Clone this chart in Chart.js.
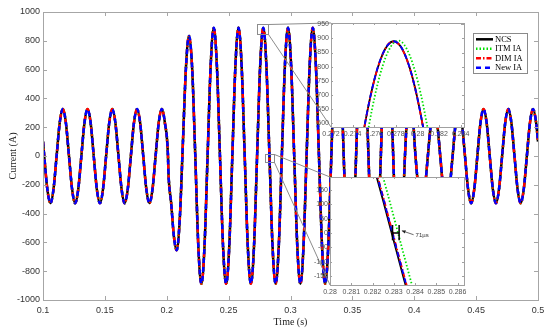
<!DOCTYPE html>
<html>
<head>
<meta charset="utf-8">
<script src="https://cdn.jsdelivr.net/npm/chart.js@4.4.1/dist/chart.umd.min.js"></script>
<style>
  html, body { margin: 0; padding: 0; background: #fff; }
  #wrap { position: relative; width: 550px; height: 330px; }
  #wrap canvas { position: absolute; }
</style>
</head>
<body>
<div id="wrap">
  <canvas id="mainChart" width="550" height="330" style="left:0;top:0"></canvas>
  <canvas id="zoomPeak"></canvas>
  <canvas id="zoomZero"></canvas>
</div>
<script>
// ---- values ----
const seriesNames = ['NCS', 'ITM IA', 'DIM IA', 'New IA'];

// main trace (all four methods overlap at this scale)
const mainTime = [
  0.100,
  0.101, 0.1035, 0.106, 0.1085, 0.111, 0.1135, 0.116, 0.1185,
  0.121, 0.1235, 0.126, 0.1285, 0.131, 0.1335, 0.136, 0.1385,
  0.141, 0.1435, 0.146, 0.1485, 0.151, 0.1535, 0.156, 0.1585,
  0.161, 0.1635, 0.166, 0.1685, 0.171, 0.1735, 0.176, 0.1785,
  0.181, 0.1835, 0.186, 0.1885, 0.191, 0.1935, 0.196, 0.1985,
  0.201, 0.2013, 0.2036, 0.2058, 0.208, 0.2105, 0.213, 0.2155, 0.218, 0.2205,
  0.223, 0.2255, 0.228, 0.2305, 0.233, 0.2355, 0.238, 0.2405,
  0.243, 0.2455, 0.248, 0.2505, 0.253, 0.2555, 0.258, 0.2605,
  0.263, 0.2655, 0.268, 0.2705, 0.273, 0.2755, 0.278, 0.2805,
  0.283, 0.2855, 0.288, 0.2905, 0.293, 0.2955, 0.298, 0.3005,
  0.303, 0.3055, 0.308, 0.3105, 0.313, 0.3155, 0.318, 0.3205,
  0.323, 0.3255, 0.328, 0.3305, 0.333, 0.3355, 0.338, 0.3405,
  0.343, 0.3455, 0.348, 0.3505, 0.353, 0.3555, 0.358, 0.3605,
  0.363, 0.3655, 0.368, 0.3705, 0.373, 0.3755, 0.378, 0.3805,
  0.383, 0.3855, 0.388, 0.3903, 0.3925, 0.3946, 0.3968, 0.399,
  0.401, 0.4035, 0.406, 0.4085, 0.411, 0.4135, 0.416, 0.4185,
  0.421, 0.4235, 0.426, 0.4285, 0.431, 0.4335, 0.436, 0.4385,
  0.441, 0.4435, 0.446, 0.4485, 0.451, 0.4535, 0.456, 0.4585,
  0.461, 0.4635, 0.466, 0.4685, 0.471, 0.4735, 0.476, 0.4785,
  0.481, 0.4835, 0.486, 0.4885, 0.491, 0.4935, 0.496, 0.4985,
  0.500
];
const mainCurrent = [
  100,
  0, -230, -328, -230, 0, 230, 326, 230,
  0, -230, -328, -230, 0, 230, 326, 230,
  0, -230, -328, -230, 0, 230, 326, 230,
  0, -230, -328, -230, 0, 230, 326, 230,
  0, -230, -328, -230, 0, 230, 326, 230,
  0, -100, -330, -560, -655, -440, 80, 610, 833, 615,
  15, -625, -888, -629, 0, 629, 890, 629,
  0, -629, -888, -629, 0, 629, 890, 629,
  0, -629, -888, -629, 0, 629, 890, 629,
  0, -629, -888, -629, 0, 629, 890, 629,
  0, -629, -888, -629, 0, 629, 890, 629,
  0, -629, -888, -629, 0, 629, 890, 629,
  0, -629, -888, -629, 0, 629, 890, 629,
  0, -629, -888, -629, 0, 629, 890, 629,
  0, -629, -888, -470, 0, 330, 420, 260,
  0, -230, -328, -230, 0, 230, 326, 230,
  0, -230, -328, -230, 0, 230, 326, 230,
  0, -230, -328, -230, 0, 230, 326, 230,
  0, -230, -328, -230, 0, 230, 326, 230,
  0, -230, -328, -230, 0, 230, 326, 230,
  100
];

// zoom on the peak near 0.278 s
const peakTime = [0.2743, 0.2748, 0.2753, 0.2758, 0.2763, 0.2768, 0.2773, 0.2778,
                  0.2783, 0.2788, 0.2793, 0.2798, 0.2803, 0.2808, 0.2813, 0.2818];
const peakNCS = [404, 523, 629, 720, 793, 846, 879, 890, 879, 846, 793, 720, 629, 523, 404, 275];
const peakITM = [301, 429, 545, 649, 736, 805, 855, 884, 892, 876, 838, 780, 703, 609, 500, 379];
const peakDIM = [402, 522, 628, 719, 793, 846, 880, 889, 878, 845, 791, 718, 627, 521, 402, 274];
const peakNew = [405, 524, 630, 721, 794, 847, 879, 890, 879, 846, 793, 720, 629, 523, 405, 276];

// zoom on the zero crossing near 0.283 s
const zeroTime = [0.2815, 0.2820, 0.2825, 0.2830, 0.2835, 0.2840, 0.2845];
const zeroNCS = [379, 248, 112, -28, -167, -301, -429];
const zeroITM = [453, 328, 194, 56, -84, -221, -353];
const zeroDIM = [392, 261, 126, -14, -153, -288, -417];
const zeroNew = [388, 258, 122, -18, -157, -291, -420];

// zoom marks on the main plot (data units)
const peakRectTime = [0.2730, 0.2818];
const peakRectCurrent = [847, 917];
const zeroRectTime = [0.2794, 0.2867];
const zeroRectCurrent = [-42, 14];

// time-shift marker in the lower zoom
const shiftText = '71µs';
const shiftTime = [0.28294, 0.28325];
const shiftBar = [-25, 28];
const shiftArrowFrom = [0.28393, -6];
const shiftArrowTo = [0.28338, 8];

// ---- layout ----
const peakBox = {left: 331, top: 23, right: 464, bottom: 127};
const zeroBox = {left: 330, top: 177, right: 464, bottom: 285};
const peakSide = {y: 31, x: 16, top: 8, right: 6};
const zeroSide = {y: 30, x: 13, top: 7, right: 6};

const styles = [
  {color: '#000000', dash: [], width: 2},
  {color: '#00e000', dash: [1.5, 2], width: 2},
  {color: '#ff0000', dash: [5, 2, 1.5, 2], width: 2},
  {color: '#0000ff', dash: [5, 4], width: 2}
];

function makeSets(time, lists, widthScale) {
  return lists.map((vals, k) => ({
    label: seriesNames[k],
    data: time.map((t, i) => ({x: t, y: vals[i]})),
    borderColor: styles[k].color,
    borderDash: styles[k].dash,
    borderWidth: styles[k].width * widthScale,
    pointRadius: 0,
    cubicInterpolationMode: 'monotone',
    clip: 0,
    order: 4 - k
  }));
}

// box around the plot with inward tick marks
const frameTicks = {
  id: 'frameTicks',
  afterDraw(chart, args, o) {
    const {ctx, chartArea: a, scales: {x, y}} = chart;
    ctx.save();
    ctx.strokeStyle = o.color;
    ctx.lineWidth = 1;
    ctx.beginPath();
    x.ticks.forEach(t => {
      const px = Math.round(x.getPixelForValue(t.value)) + 0.5;
      ctx.moveTo(px, a.bottom); ctx.lineTo(px, a.bottom - o.len);
      ctx.moveTo(px, a.top); ctx.lineTo(px, a.top + o.len);
    });
    y.ticks.forEach(t => {
      const py = Math.round(y.getPixelForValue(t.value)) + 0.5;
      ctx.moveTo(a.left, py); ctx.lineTo(a.left + o.len, py);
      ctx.moveTo(a.right, py); ctx.lineTo(a.right - o.len, py);
    });
    ctx.stroke();
    ctx.strokeRect(Math.round(a.left) + 0.5, Math.round(a.top) + 0.5,
                   Math.round(a.right - a.left), Math.round(a.bottom - a.top));
    ctx.restore();
  }
};

const whiteArea = {
  id: 'whiteArea',
  beforeDraw(chart) {
    const {ctx, chartArea: a} = chart;
    ctx.save();
    ctx.fillStyle = '#ffffff';
    ctx.fillRect(a.left, a.top, a.right - a.left, a.bottom - a.top);
    ctx.restore();
  }
};

const zoomGuides = {
  id: 'zoomGuides',
  afterDatasetsDraw(chart) {
    const {ctx, scales: {x, y}} = chart;
    ctx.save();
    ctx.strokeStyle = '#8c8c8c';
    ctx.lineWidth = 1;
    [[peakRectTime, peakRectCurrent, peakBox], [zeroRectTime, zeroRectCurrent, zeroBox]].forEach(([tt, cc, box]) => {
      const l = Math.round(x.getPixelForValue(tt[0])) + 0.5;
      const r = Math.round(x.getPixelForValue(tt[1])) + 0.5;
      const t = Math.round(y.getPixelForValue(cc[1])) + 0.5;
      const b = Math.round(y.getPixelForValue(cc[0])) + 0.5;
      ctx.strokeRect(l, t, r - l, b - t);
      ctx.beginPath();
      ctx.moveTo(r, t); ctx.lineTo(box.left, box.top);
      ctx.moveTo(r, b); ctx.lineTo(box.left, box.bottom);
      ctx.stroke();
    });
    ctx.restore();
  }
};

const legendBox = {
  id: 'legendBox',
  afterDraw(chart, args, o) {
    const ctx = chart.ctx;
    ctx.save();
    ctx.fillStyle = '#ffffff';
    ctx.fillRect(o.x, o.y, o.w, o.h);
    ctx.strokeStyle = '#8a8a8a';
    ctx.lineWidth = 1;
    ctx.strokeRect(o.x + 0.5, o.y + 0.5, o.w, o.h);
    chart.data.datasets.forEach((ds, i) => {
      const yy = o.y + o.first + i * o.step;
      ctx.strokeStyle = ds.borderColor;
      ctx.lineWidth = ds.borderWidth;
      ctx.setLineDash(ds.borderDash);
      ctx.beginPath();
      ctx.moveTo(o.x + 3, yy); ctx.lineTo(o.x + 20, yy);
      ctx.stroke();
      ctx.setLineDash([]);
      ctx.fillStyle = '#000000';
      ctx.font = '8.5px "Liberation Serif"';
      ctx.textBaseline = 'middle';
      ctx.fillText(ds.label, o.x + 22, yy);
    });
    ctx.restore();
  }
};

const shiftNote = {
  id: 'shiftNote',
  afterDatasetsDraw(chart) {
    const {ctx, scales: {x, y}} = chart;
    const l = x.getPixelForValue(shiftTime[0]), r = x.getPixelForValue(shiftTime[1]);
    const top = y.getPixelForValue(shiftBar[1]), bot = y.getPixelForValue(shiftBar[0]);
    const mid = y.getPixelForValue(0);
    ctx.save();
    ctx.strokeStyle = '#000000';
    ctx.lineWidth = 1.5;
    ctx.beginPath();
    ctx.moveTo(l, top); ctx.lineTo(l, bot);
    ctx.moveTo(r, top); ctx.lineTo(r, bot);
    ctx.moveTo(l, mid); ctx.lineTo(r, mid);
    ctx.stroke();
    const ax = x.getPixelForValue(shiftArrowFrom[0]), ay = y.getPixelForValue(shiftArrowFrom[1]);
    const bx = x.getPixelForValue(shiftArrowTo[0]), by = y.getPixelForValue(shiftArrowTo[1]);
    ctx.lineWidth = 0.8;
    ctx.strokeStyle = '#444444';
    ctx.beginPath();
    ctx.moveTo(ax, ay); ctx.lineTo(bx, by);
    ctx.stroke();
    const ang = Math.atan2(by - ay, bx - ax);
    ctx.fillStyle = '#222222';
    ctx.beginPath();
    ctx.moveTo(bx, by);
    ctx.lineTo(bx - 4 * Math.cos(ang - 0.45), by - 4 * Math.sin(ang - 0.45));
    ctx.lineTo(bx - 4 * Math.cos(ang + 0.45), by - 4 * Math.sin(ang + 0.45));
    ctx.closePath();
    ctx.fill();
    ctx.fillStyle = '#333333';
    ctx.font = '6px "Liberation Sans"';
    ctx.textBaseline = 'middle';
    ctx.fillText(shiftText, ax + 2, ay + 1);
    ctx.restore();
  }
};

// ---- main chart ----
new Chart(document.getElementById('mainChart'), {
  type: 'line',
  data: {datasets: makeSets(mainTime, [mainCurrent, mainCurrent, mainCurrent, mainCurrent], 1.25)},
  options: {
    responsive: false,
    animation: false,
    devicePixelRatio: 1,
    events: [],
    layout: {padding: {top: 12, right: 12, left: 0, bottom: 0}},
    plugins: {
      legend: {display: false},
      tooltip: {enabled: false},
      frameTicks: {color: '#a6a6a6', len: 4},
      legendBox: {x: 473, y: 33, w: 54, h: 40, first: 6.3, step: 9.5}
    },
    scales: {
      x: {
        type: 'linear', min: 0.1, max: 0.5,
        grid: {display: false, drawTicks: false}, border: {display: false},
        ticks: {stepSize: 0.05, includeBounds: false, padding: 5, color: '#333333',
                font: {family: 'Liberation Sans', size: 9}, maxRotation: 0, autoSkip: false,
                callback: v => String(+v.toFixed(3))},
        title: {display: true, text: 'Time (s)', color: '#222222',
                font: {family: 'Liberation Serif', size: 10}, padding: {top: 0, bottom: 2}},
        afterFit: s => { s.height = 30; s.paddingLeft = 0; s.paddingRight = 0; }
      },
      y: {
        min: -1000, max: 1000,
        grid: {display: false, drawTicks: false}, border: {display: false},
        ticks: {stepSize: 200, includeBounds: false, padding: 3, color: '#333333',
                font: {family: 'Liberation Sans', size: 9}, callback: v => String(v)},
        title: {display: true, text: 'Current (A)', color: '#222222',
                font: {family: 'Liberation Serif', size: 10}, padding: {top: 7, bottom: 0}},
        afterFit: s => { s.width = 43; s.paddingTop = 0; s.paddingBottom = 0; }
      }
    }
  },
  plugins: [zoomGuides, frameTicks, legendBox]
});

// ---- zoom insets ----
function placeCanvas(id, box, side) {
  const c = document.getElementById(id);
  c.width = side.y + (box.right - box.left) + side.right;
  c.height = side.top + (box.bottom - box.top) + side.x;
  c.style.left = (box.left - side.y) + 'px';
  c.style.top = (box.top - side.top) + 'px';
  return c;
}

function insetOptions(xr, yr, xStep, yStep, side) {
  return {
    responsive: false,
    animation: false,
    devicePixelRatio: 1,
    events: [],
    layout: {padding: {top: side.top, right: side.right, left: 0, bottom: 0}},
    plugins: {
      legend: {display: false},
      tooltip: {enabled: false},
      frameTicks: {color: '#a0a0a0', len: 2}
    },
    scales: {
      x: {
        type: 'linear', min: xr[0], max: xr[1],
        grid: {display: false, drawTicks: false}, border: {display: false},
        ticks: {stepSize: xStep, includeBounds: false, padding: 3, color: '#555555',
                font: {family: 'Liberation Sans', size: 7}, maxRotation: 0, autoSkip: false,
                callback: v => String(+v.toFixed(3))},
        afterFit: s => { s.height = side.x; s.paddingLeft = 0; s.paddingRight = 0; }
      },
      y: {
        min: yr[0], max: yr[1],
        grid: {display: false, drawTicks: false}, border: {display: false},
        ticks: {stepSize: yStep, includeBounds: false, padding: 2, color: '#555555',
                font: {family: 'Liberation Sans', size: 7}, callback: v => String(v)},
        afterFit: s => { s.width = side.y; s.paddingTop = 0; s.paddingBottom = 0; }
      }
    }
  };
}

new Chart(placeCanvas('zoomPeak', peakBox, peakSide), {
  type: 'line',
  data: {datasets: makeSets(peakTime, [peakNCS, peakITM, peakDIM, peakNew], 0.9)},
  options: insetOptions([0.272, 0.2843], [585, 955], 0.002, 50, peakSide),
  plugins: [whiteArea, frameTicks]
});

new Chart(placeCanvas('zoomZero', zeroBox, zeroSide), {
  type: 'line',
  data: {datasets: makeSets(zeroTime, [zeroNCS, zeroITM, zeroDIM, zeroNew], 0.9)},
  options: insetOptions([0.28, 0.2863], [-181, 195], 0.001, 50, zeroSide),
  plugins: [whiteArea, shiftNote, frameTicks]
});
</script>
</body>
</html>
